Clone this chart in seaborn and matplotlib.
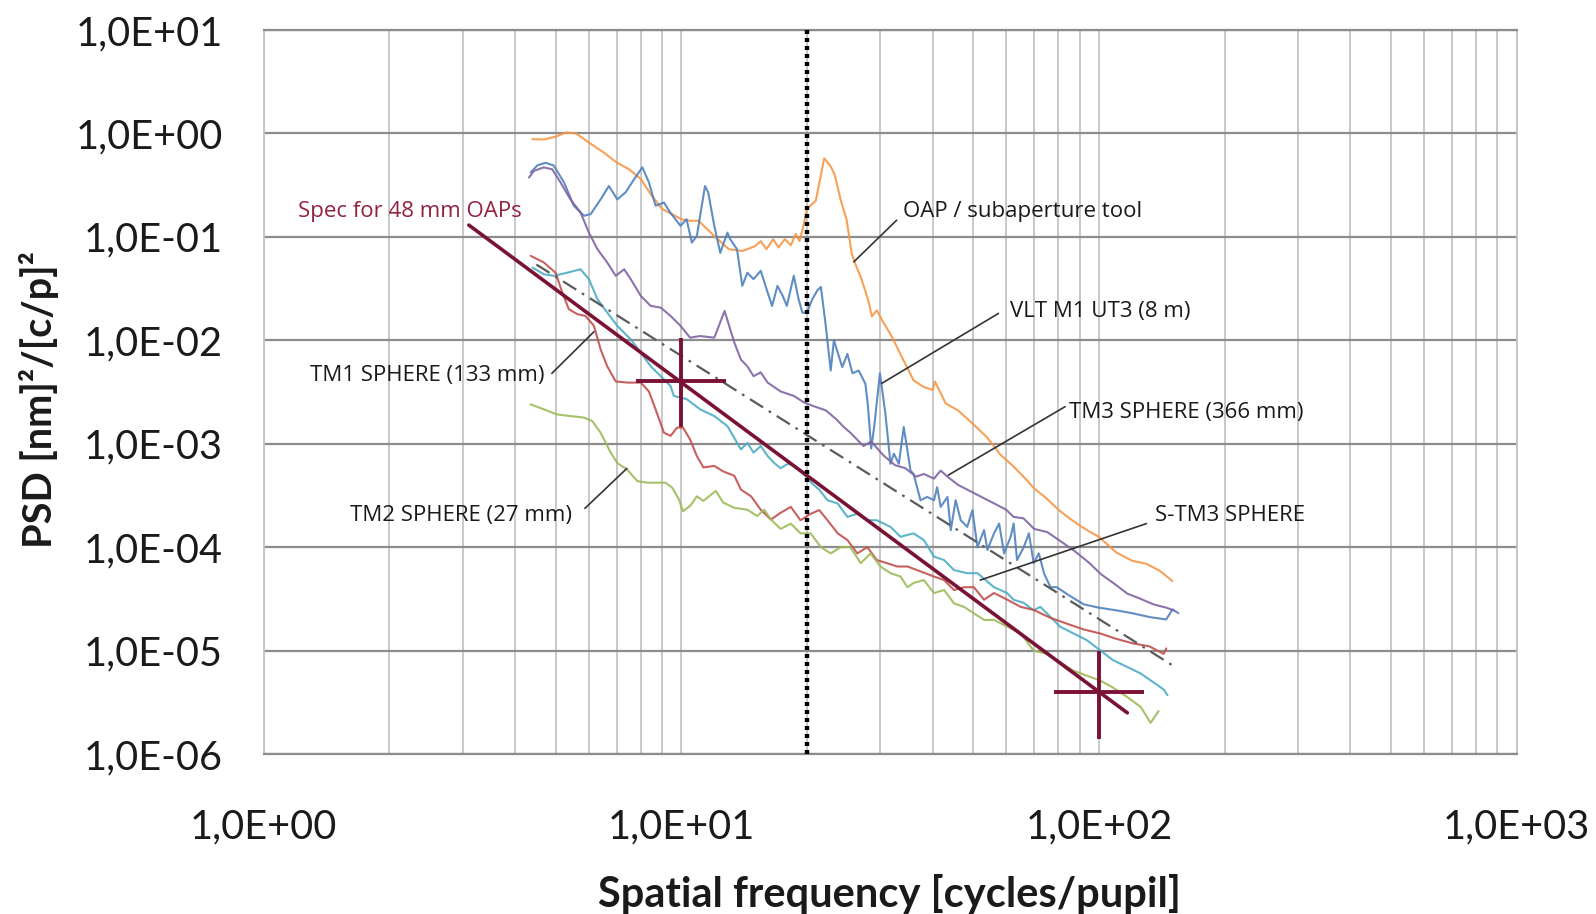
import numpy as np
import matplotlib
matplotlib.use("Agg")
import matplotlib.pyplot as plt
from matplotlib.ticker import FixedLocator, LogLocator, FuncFormatter, NullLocator
import seaborn as sns

# ---------------- data ----------------
oap_freq = [4.4, 4.7, 5.0, 5.3, 5.6, 6.0, 6.5, 7.0, 7.5, 8.0, 8.5, 9.0, 9.5, 10.0, 10.5, 11.0,
            12.0, 13.0, 14.0, 15.0, 15.5, 16.0, 16.6, 17.1, 17.7, 18.3, 18.8, 19.2, 19.6, 20.0,
            21.0, 22.0, 22.8, 23.3, 24.1, 24.9, 25.6, 26.1, 26.9, 28.0, 28.6, 29.4, 30.3, 32, 34,
            36, 38, 40, 40.5, 43, 46, 50, 54, 58, 62, 66, 70, 75, 80, 85, 90, 95, 100, 110, 120,
            130, 140, 150]
oap_psd = [0.88, 0.875, 0.93, 1.02, 1.0, 0.82, 0.66, 0.525, 0.45, 0.363, 0.25, 0.186, 0.166,
           0.148, 0.143, 0.143, 0.102, 0.076, 0.073, 0.081, 0.091, 0.076, 0.095, 0.079, 0.095,
           0.083, 0.107, 0.091, 0.126, 0.186, 0.224, 0.575, 0.48, 0.40, 0.226, 0.145, 0.069,
           0.055, 0.041, 0.025, 0.017, 0.0195, 0.0155, 0.0107, 0.0065, 0.0041, 0.00355, 0.0033,
           0.0040, 0.00245, 0.0021, 0.00155, 0.00115, 7.9e-4, 6.2e-4, 4.8e-4, 3.7e-4, 2.95e-4,
           2.3e-4, 1.9e-4, 1.62e-4, 1.41e-4, 1.26e-4, 8.9e-5, 7.4e-5, 6.9e-5, 5.9e-5, 4.7e-5]

vlt_freq = [4.36, 4.52, 4.73, 4.95, 5.24, 5.53, 5.85, 6.07, 6.41, 6.71, 7.03, 7.36, 7.71, 8.07,
            8.37, 8.68, 9.09, 9.43, 9.96, 10.3, 10.6, 10.9, 11.2, 11.4, 11.6, 12.0, 12.4, 12.9,
            13.1, 13.6, 14.0, 14.4, 14.9, 15.5, 16.1, 16.5, 17.0, 17.5, 17.9, 18.6, 19.1, 19.5,
            20.0, 20.6, 21.2, 21.6, 22.2, 22.8, 23.2, 24.3, 25.0, 25.7, 26.6, 27.6, 28.0, 28.5,
            29.0, 29.9, 30.8, 31.7, 32.3, 33.2, 34.1, 34.8, 35.4, 36.0, 37.4, 38.8, 40.3, 41.0,
            41.8, 43.4, 44.2, 45.4, 46.7, 48.4, 49.8, 51.2, 53.1, 54.1, 56.1, 57.7, 59.3, 61.5,
            62.5, 63.7, 66.1, 68.0, 69.8, 71.8, 74.0, 76.6, 79.3, 85, 92, 100, 110, 120, 133,
            145, 150, 155]
vlt_psd = [0.42, 0.49, 0.52, 0.49, 0.336, 0.20, 0.16, 0.166, 0.23, 0.31, 0.23, 0.27, 0.36, 0.47,
           0.336, 0.20, 0.215, 0.17, 0.128, 0.148, 0.088, 0.102, 0.20, 0.31, 0.27, 0.128, 0.070,
           0.110, 0.095, 0.076, 0.0336, 0.045, 0.039, 0.047, 0.029, 0.0215, 0.0336, 0.0269,
           0.0215, 0.042, 0.025, 0.0185, 0.0185, 0.025, 0.0305, 0.0328, 0.0135, 0.0051, 0.010,
           0.0055, 0.0074, 0.0048, 0.0051, 0.0038, 0.0023, 0.0009, 0.0015, 0.0048, 0.0020,
           6.4e-4, 8.0e-4, 6.4e-4, 1.45e-3, 8.6e-4, 5.5e-4, 5.1e-4, 2.84e-4, 3.06e-4, 2.84e-4,
           3.8e-4, 2.45e-4, 3.06e-4, 1.46e-4, 2.84e-4, 1.82e-4, 1.57e-4, 2.28e-4, 1.0e-4,
           1.46e-4, 9.4e-5, 1.36e-4, 1.69e-4, 8.7e-5, 1.26e-4, 1.69e-4, 7.5e-5, 1.0e-4, 1.36e-4,
           7.0e-5, 8.7e-5, 5.5e-5, 4.1e-5, 4.1e-5, 3.4e-5, 2.8e-5, 2.6e-5, 2.45e-5, 2.3e-5,
           2.1e-5, 2.0e-5, 2.5e-5, 2.3e-5]

tm3_freq = [4.32, 4.44, 4.69, 4.91, 5.14, 5.43, 5.74, 6.01, 6.30, 6.65, 6.97, 7.30, 7.57, 8.00,
            8.45, 8.93, 9.43, 9.96, 10.5, 11.1, 12.0, 12.7, 13.4, 13.9, 14.4, 14.9, 15.5, 16.1,
            17.3, 18.6, 19.7, 20.8, 22.2, 23.6, 24.5, 25.4, 27.3, 28.5, 30.5, 32.5, 34.4, 36.5,
            38.1, 40.3, 41.8, 43.4, 46, 48.4, 52, 56.1, 60, 62.5, 66, 70, 75.2, 80, 87.1, 95,
            101, 110, 117, 125, 135, 145, 151]
tm3_psd = [0.375, 0.435, 0.47, 0.45, 0.336, 0.23, 0.172, 0.110, 0.076, 0.0565, 0.042, 0.0486,
           0.039, 0.0269, 0.0215, 0.0207, 0.0172, 0.0138, 0.0106, 0.0110, 0.0106, 0.0192,
           0.0095, 0.0065, 0.0056, 0.0045, 0.0049, 0.0039, 0.0032, 0.0029, 0.0025, 0.0023,
           0.0021, 0.0017, 0.00145, 0.00128, 9.5e-4, 1.05e-3, 7.7e-4, 6.2e-4, 5.8e-4, 4.8e-4,
           5.1e-4, 4.6e-4, 5.5e-4, 4.8e-4, 4.0e-4, 3.6e-4, 3.1e-4, 2.65e-4, 2.3e-4, 1.96e-4,
           1.9e-4, 1.5e-4, 1.4e-4, 1.18e-4, 9.3e-5, 7.0e-5, 5.5e-5, 4.3e-5, 3.55e-5, 3.2e-5,
           2.8e-5, 2.6e-5, 2.45e-5]

stm3_freq = [4.40, 4.69, 4.95, 5.33, 5.74, 6.01, 6.30, 6.65, 7.03, 7.57, 8.00, 8.45, 8.93, 9.43,
             9.6, 10.3, 11.1, 12.0, 12.9, 13.9, 14.4, 14.9, 15.5, 16.1, 16.7, 17.3, 18.0, 18.6,
             19.9, 20.6, 21.4, 22.4, 23.7, 25.0, 26.4, 27.9, 29.4, 31.7, 33.5, 36.0, 38.1, 40.3,
             42.6, 45.0, 48.4, 51.2, 56.1, 60.3, 62.5, 66, 69.8, 72.4, 80.8, 93.6, 108, 126,
             143, 146]
stm3_psd = [0.0505, 0.0435, 0.042, 0.045, 0.0486, 0.039, 0.025, 0.0185, 0.0138, 0.0102, 0.0076,
            0.0056, 0.0045, 0.0036, 0.0029, 0.0027, 0.00215, 0.00185, 0.00148, 8.8e-4, 1.02e-3,
            8.2e-4, 9.5e-4, 7.6e-4, 6.5e-4, 5.8e-4, 6.4e-4, 6.2e-4, 4.8e-4, 4.1e-4, 3.6e-4,
            2.84e-4, 2.64e-4, 1.96e-4, 2.1e-4, 1.82e-4, 1.82e-4, 1.57e-4, 1.26e-4, 1.36e-4,
            1.17e-4, 8.1e-5, 7.5e-5, 6.0e-5, 5.6e-5, 5.6e-5, 4.1e-5, 3.6e-5, 3.1e-5, 2.9e-5,
            2.45e-5, 2.65e-5, 1.7e-5, 1.26e-5, 8.1e-6, 6.0e-6, 4.2e-6, 3.7e-6]

tm1_freq = [4.36, 4.69, 5.0, 5.19, 5.38, 5.64, 5.90, 6.18, 6.41, 6.65, 6.97, 7.43, 8.0, 8.37,
            8.68, 9.09, 9.43, 9.77, 10.1, 10.5, 10.9, 11.3, 12.0, 12.6, 13.4, 13.9, 14.7, 15.5,
            16.4, 17.3, 18.3, 19.3, 20.4, 21.4, 22.4, 23.7, 25.0, 26.4, 27.9, 29.4, 31.1, 32.9,
            34.8, 36.7, 40.3, 42.6, 45.0, 47.5, 50.2, 53.1, 56.1, 60.4, 64.9, 69.8, 76, 83.8, 92,
            101, 110, 121, 132, 143, 145]
tm1_psd = [0.0655, 0.0565, 0.045, 0.029, 0.020, 0.0179, 0.0172, 0.0138, 0.0082, 0.0056, 0.0040,
           0.0039, 0.0039, 0.0032, 0.00215, 0.00128, 0.00119, 0.00143, 0.00143, 0.0011, 7.6e-4,
           5.9e-4, 6.1e-4, 5.4e-4, 4.9e-4, 3.6e-4, 3.1e-4, 2.3e-4, 1.85e-4, 2.15e-4, 2.45e-4,
           1.82e-4, 2.1e-4, 2.28e-4, 1.82e-4, 1.36e-4, 1.17e-4, 8.7e-5, 1.0e-4, 7.5e-5, 7.0e-5,
           6.5e-5, 6.5e-5, 6.0e-5, 5.2e-5, 4.8e-5, 3.85e-5, 4.1e-5, 4.1e-5, 3.1e-5, 3.6e-5,
           3.1e-5, 2.65e-5, 2.47e-5, 2.1e-5, 1.82e-5, 1.6e-5, 1.46e-5, 1.3e-5, 1.17e-5, 1.1e-5,
           9.3e-6, 1.05e-5]

tm2_freq = [4.36, 4.69, 5.04, 5.43, 5.85, 6.12, 6.41, 6.78, 7.03, 7.43, 7.85, 8.30, 8.77, 9.17,
            9.52, 9.87, 10.1, 10.5, 10.9, 11.3, 12.1, 12.6, 13.4, 14.4, 15.2, 15.8, 16.4, 17.3,
            18.3, 19.3, 20.4, 21.6, 22.8, 24.1, 25.4, 26.9, 28.4, 30.0, 31.7, 33.5, 34.8, 36.0,
            38.1, 40.3, 42.6, 45.0, 47.5, 50.2, 53.1, 56.1, 60.4, 64.9, 69.8, 75.1, 86.9, 101,
            108, 117, 126, 133, 139]
tm2_psd = [0.0024, 0.00215, 0.00192, 0.00185, 0.00179, 0.00166, 0.00128, 8.2e-4, 6.5e-4, 5.6e-4,
           4.35e-4, 4.2e-4, 4.2e-4, 4.2e-4, 3.75e-4, 2.9e-4, 2.23e-4, 2.5e-4, 3.1e-4, 2.8e-4,
           3.5e-4, 2.7e-4, 2.4e-4, 2.3e-4, 2.0e-4, 2.3e-4, 1.85e-4, 1.5e-4, 1.69e-4, 1.36e-4,
           1.36e-4, 1.0e-4, 8.7e-5, 1.0e-4, 1.0e-4, 7.0e-5, 8.7e-5, 6.5e-5, 5.6e-5, 5.2e-5,
           4.1e-5, 4.5e-5, 4.8e-5, 3.6e-5, 3.85e-5, 2.86e-5, 2.65e-5, 2.29e-5, 1.98e-5, 1.98e-5,
           1.7e-5, 1.47e-5, 1.0e-5, 9.3e-6, 6.4e-6, 5.1e-6, 4.4e-6, 3.55e-6, 2.85e-6, 2.0e-6,
           2.6e-6]

spec_freq = [3.1, 117]
spec_psd = [0.13, 2.5e-6]
cross_freq = [10, 100]
cross_psd = [4.0e-3, 4.0e-6]
cross_freq_lo = [7.8, 78]
cross_freq_hi = [12.8, 128]
cross_psd_lo = [1.45e-3, 1.4e-6]
cross_psd_hi = [1.05e-2, 1.0e-5]

dashdot_freq = [4.5, 150]
dashdot_psd = [0.054, 7.2e-6]
divider_freq = 20

series = [
    ("OAP / subaperture tool", oap_freq, oap_psd, "#F79646"),
    ("VLT M1 UT3 (8 m)", vlt_freq, vlt_psd, "#4F81BD"),
    ("TM3 SPHERE (366 mm)", tm3_freq, tm3_psd, "#8064A2"),
    ("S-TM3 SPHERE", stm3_freq, stm3_psd, "#4BACC6"),
    ("TM1 SPHERE (133 mm)", tm1_freq, tm1_psd, "#C0504D"),
    ("TM2 SPHERE (27 mm)", tm2_freq, tm2_psd, "#9BBB59"),
]

# label text position, leader start, leader end (data coordinates), alignment
labels = [
    ("OAP / subaperture tool", (34.0, 0.174), (32.8, 0.145), (25.9, 0.0574), "left"),
    ("VLT M1 UT3 (8 m)", (61.3, 0.0191), (57.5, 0.0182), (30.2, 3.83e-3), "left"),
    ("TM3 SPHERE (366 mm)", (84.9, 2.02e-3), (83.0, 2.28e-3), (43.6, 4.97e-4), "left"),
    ("S-TM3 SPHERE", (136, 2.04e-4), (130, 1.69e-4), (52.0, 4.8e-5), "left"),
    ("TM1 SPHERE (133 mm)", (4.71, 4.6e-3), (4.90, 4.79e-3), (6.18, 0.0121), "right"),
    ("TM2 SPHERE (27 mm)", (5.48, 2.04e-4), (5.88, 2.37e-4), (7.41, 5.77e-4), "right"),
]
spec_label = ("Spec for 48 mm OAPs", (1.21, 0.174))

x_title = "Spatial frequency [cycles/pupil]"
y_title = "PSD [nm]²/[c/p]²"

# ---------------- drawing ----------------
sns.set_style("white")
plt.rcParams['font.family'] = ['Lato', 'DejaVu Sans']

SPEC_COLOR = "#7A1236"
GRID_Y = "#8c8c8c"
GRID_X = "#c4c4c4"

fig = plt.figure(figsize=(15.96, 9.14), dpi=100)
ax = fig.add_axes([0.16516, 0.17505, 0.78503, 0.79212])
ax.set_xscale('log')
ax.set_yscale('log')
ax.set_xlim(1, 1000)
ax.set_ylim(1e-6, 10)

ax.xaxis.set_major_locator(FixedLocator([1, 10, 100, 1000]))
ax.xaxis.set_minor_locator(LogLocator(base=10, subs=np.arange(2, 10), numticks=100))
ax.yaxis.set_major_locator(FixedLocator([10.0 ** k for k in range(-6, 2)]))
ax.yaxis.set_minor_locator(NullLocator())


def sci_label(v, pos):
    e = int(round(np.log10(v)))
    return f"1,0E{e:+03d}"


ax.xaxis.set_major_formatter(FuncFormatter(sci_label))
ax.yaxis.set_major_formatter(FuncFormatter(sci_label))

ax.grid(which='major', axis='y', color=GRID_Y, lw=1.6)
ax.grid(which='both', axis='x', color=GRID_X, lw=1.3)
ax.set_axisbelow(True)
for side in ('left', 'right'):
    ax.spines[side].set_color(GRID_X)
    ax.spines[side].set_linewidth(1.3)
for side in ('top', 'bottom'):
    ax.spines[side].set_color(GRID_Y)
    ax.spines[side].set_linewidth(1.6)

ax.tick_params(axis='y', which='major', length=10, width=1.6, color=GRID_Y,
               labelsize=28.5, pad=19.5, labelcolor='#1a1a1a')
ax.tick_params(axis='x', which='major', length=10, width=1.3, color=GRID_X,
               labelsize=28.5, pad=29, labelcolor='#1a1a1a')
ax.tick_params(axis='x', which='minor', length=0)

# measured curves
for name, f, p, c in series:
    sns.lineplot(x=f, y=p, ax=ax, color=c, lw=1.5, alpha=0.9, estimator=None, sort=False)

# dash-dot fit line
sns.lineplot(x=dashdot_freq, y=dashdot_psd, ax=ax, color="#5a5a5a", lw=1.6,
             dashes=False, estimator=None)
ax.lines[-1].set_dashes([7, 3, 1.2, 3])

# divider
ax.axvline(divider_freq, color='black', lw=3.2, linestyle=(0, (0.9, 0.9)), zorder=4)

# spec line and crosses
sns.lineplot(x=spec_freq, y=spec_psd, ax=ax, color=SPEC_COLOR, lw=2.6, estimator=None)
cf = np.array(cross_freq)
cp = np.array(cross_psd)
ax.errorbar(cf, cp,
            xerr=[cf - np.array(cross_freq_lo), np.array(cross_freq_hi) - cf],
            yerr=[cp - np.array(cross_psd_lo), np.array(cross_psd_hi) - cp],
            fmt='none', ecolor=SPEC_COLOR, elinewidth=2.8, capsize=0, zorder=5)

# annotations
for text, tpos, lstart, lend, ha in labels:
    ax.annotate('', xy=lend, xytext=lstart,
                arrowprops=dict(arrowstyle='-', color='#333333', lw=1.2,
                                shrinkA=0, shrinkB=0))
    ax.text(tpos[0], tpos[1], text, ha=ha, va='center', fontsize=16,
            family=['Open Sans', 'DejaVu Sans'], color='#1a1a1a')
ax.text(spec_label[1][0], spec_label[1][1], spec_label[0], ha='left', va='center',
        fontsize=16, family=['Open Sans', 'DejaVu Sans'], color='#93213F')

fig.text(889 / 1596, 1 - 894 / 914, x_title, ha='center', va='center',
         fontsize=30, fontweight='bold', color='#1a1a1a')
fig.text(39 / 1596, 1 - 400 / 914, y_title, ha='center', va='center', rotation=90,
         fontsize=28.5, fontweight='bold', color='#1a1a1a')

fig.savefig("out.png", dpi=100)
